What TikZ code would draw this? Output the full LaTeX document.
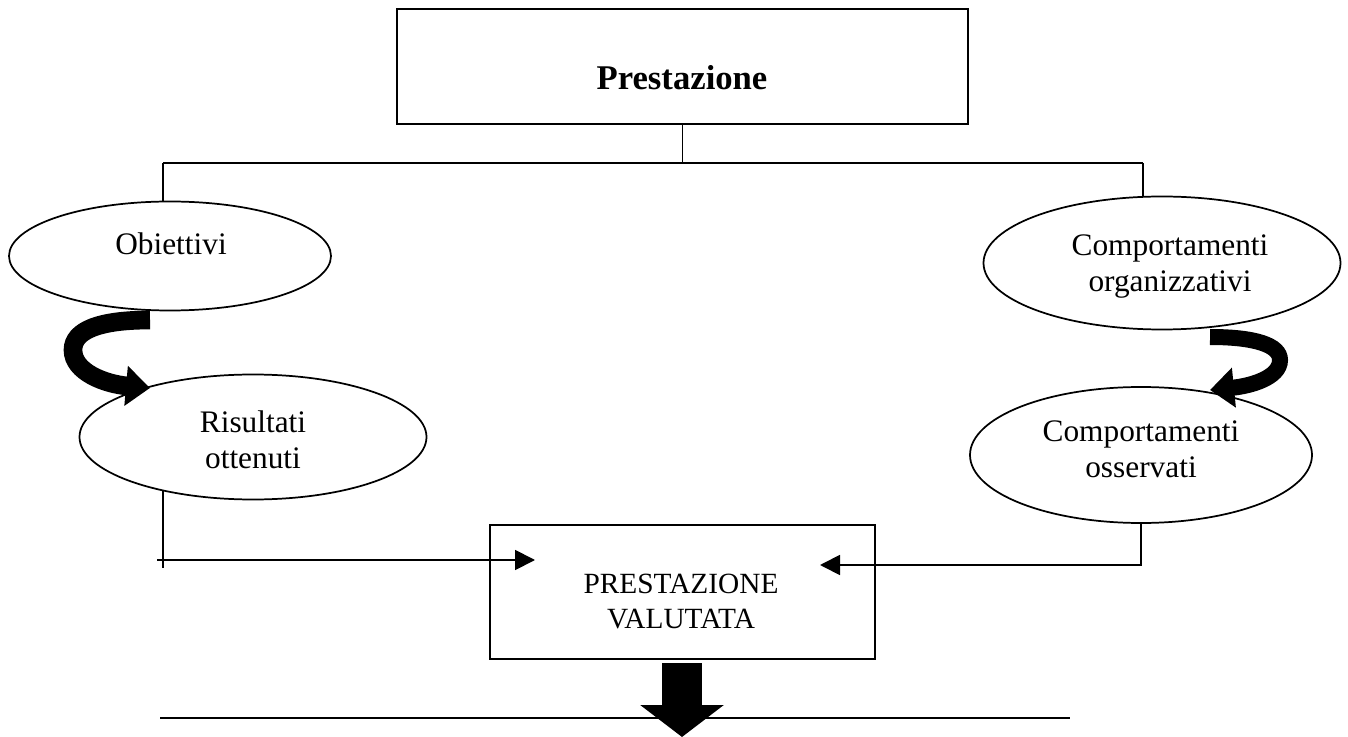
\documentclass[tikz,border=0pt]{standalone}
\usepackage{fontspec}
\setmainfont{Liberation Serif}
\usetikzlibrary{shapes.geometric,arrows.meta}
\begin{document}
\begin{tikzpicture}[x=0.75pt,y=-0.75pt,
  ln/.style={line width=1.4pt},
  ell/.style={draw,ellipse,line width=1.3pt,inner sep=0pt},
  bx/.style={draw,rectangle,line width=1.4pt,inner sep=0pt},
  txt/.style={inner sep=0pt,anchor=base,align=center,font=\fontsize{23.5}{27}\selectfont},
  conn/.style={line width=1.4pt,-{Triangle[length=15pt,width=15pt]}},
  curv/.style={-{Triangle[length=18pt,width=29pt]}}]
\useasboundingbox (0,0) rectangle (1348,737);
% boxes
\node[bx,minimum width=428.25pt,minimum height=86.25pt] (top) at (682.5,66.5) {};
\node[txt,font=\bfseries\fontsize{26}{30}\selectfont] (toptxt) at (682,90) {Prestazione};
\node[bx,minimum width=288.75pt,minimum height=100.5pt] (val) at (682.5,592) {};
\node[txt,font=\fontsize{22}{26}\selectfont] (valtxt) at (681,628) {PRESTAZIONE\\VALUTATA};
% ellipses
\node[ell,minimum width=241.5pt,minimum height=81.75pt] (obi) at (170,256) {};
\node[txt] (obitxt) at (171,255) {Obiettivi};
\node[ell,minimum width=267.75pt,minimum height=99.75pt] (org) at (1162,263) {};
\node[txt] (orgtxt) at (1170,292) {Comportamenti\\organizzativi};
\node[ell,minimum width=260.25pt,minimum height=93.75pt] (ris) at (253,437) {};
\node[txt] (ristxt) at (253,468) {Risultati\\ottenuti};
\node[ell,minimum width=256.5pt,minimum height=102pt] (oss) at (1141,455) {};
\node[txt] (osstxt) at (1141,477) {Comportamenti\\osservati};
% tree connectors
\coordinate (jl) at (163,163);
\coordinate (jr) at (1143,163);
\draw[ln] (top.south) -- (top.south |- jl);
\draw[ln] (jl) -- (jr);
\draw[ln] (jl) -- (jl |- obi.north);
\draw[ln] (jr) -- (jr |- org.north);
% curved arrows
\coordinate (c1s) at (150,320);
\coordinate (c1e) at (150,388);
\draw[curv,line width=14pt] (c1s) .. controls (100,320) and (73,330) .. (73,350)
   .. controls (73,372) and (105,384) .. (c1e);
\coordinate (c2s) at (1210,337);
\coordinate (c2e) at (1210,390);
\draw[curv,line width=12pt] (c2s) .. controls (1255,337) and (1280,345) .. (1280,360)
   .. controls (1280,378) and (1250,386) .. (c2e);
% arrows into valuation box
\coordinate (l1) at (163,491);
\coordinate (l2) at (163,568);
\coordinate (lh) at (157,560);
\coordinate (ltip) at (535,560);
\draw[ln] (l1) -- (l2);
\draw[conn] (lh) -- (ltip);
\coordinate (rtip) at (820,565);
\draw[conn] (oss.south) |- (rtip);
% bottom arrow and line
\coordinate (bt) at (682,663);
\coordinate (bb) at (682,737);
\draw[line width=30pt,-{Triangle[length=24pt,width=61.5pt]}] (bt) -- (bb);
\coordinate (bl) at (160,718);
\coordinate (br) at (1070,718);
\draw[line width=1.9pt] (bl) -- (br);
\end{tikzpicture}
\end{document}
